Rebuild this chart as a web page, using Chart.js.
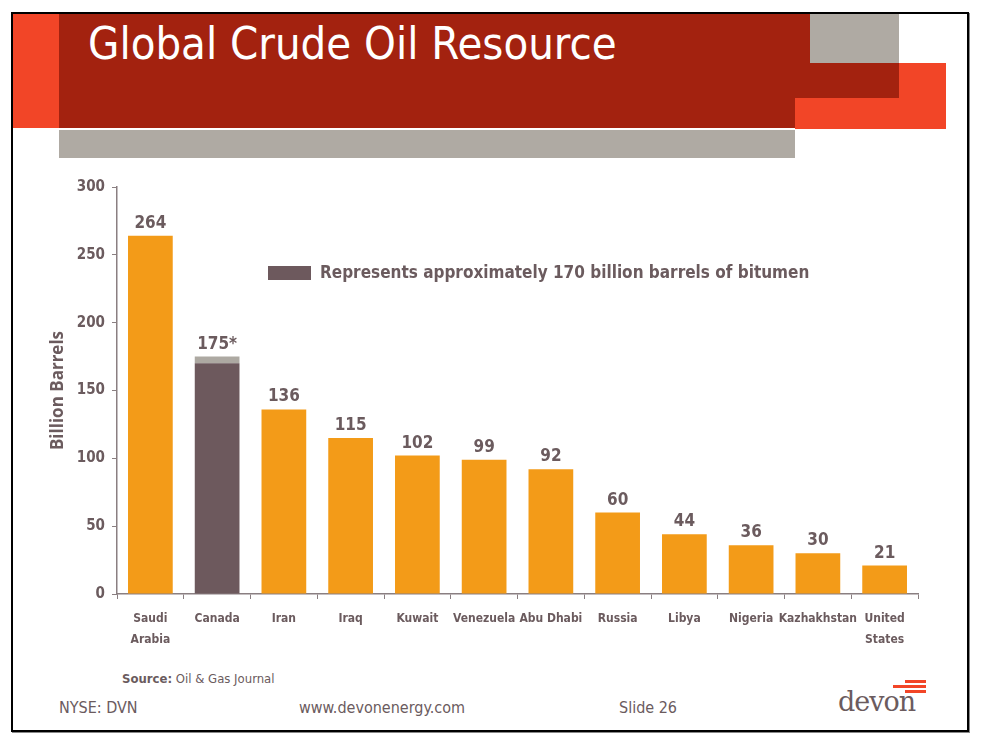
<!DOCTYPE html>
<html>
<head>
<meta charset="utf-8">
<script src="https://cdn.jsdelivr.net/npm/chart.js@4/dist/chart.umd.min.js"></script>
<style>
  body { margin: 0; background: #fff; width: 986px; height: 748px; position: relative; overflow: hidden; font-family: "DejaVu Sans Condensed", "DejaVu Sans", sans-serif; color: #6b5b5e; }
  .abs { position: absolute; }
  #slide { left: 11px; top: 12px; width: 954px; height: 716px; border: 2px solid #000; box-shadow: 1px 1px 0 #888; }
  .red { background: #a3220f; }
  .orange { background: #f24527; }
  .grey { background: #afaaa3; }
  #title { left: 88px; top: 17px; font-size: 45px; color: #fff; white-space: nowrap; }
  .foot { font-size: 16px; top: 698px; white-space: nowrap; }
  #source { left: 122px; top: 671px; font-size: 13px; white-space: nowrap; }
  #logo { left: 838px; top: 686px; font-family: "DejaVu Serif", serif; font-size: 27px; color: #6b5b5e; letter-spacing: -1px; }
  #chartBox { left: 40px; top: 170px; width: 890px; height: 490px; }
</style>
</head>
<body>
<div id="slide" class="abs"></div>
<div class="abs orange" style="left:13px;top:14px;width:46px;height:114px"></div>
<div class="abs red" style="left:59px;top:14px;width:840px;height:84px"></div>
<div class="abs red" style="left:59px;top:98px;width:736px;height:30px"></div>
<div class="abs grey" style="left:810px;top:14px;width:89px;height:49px"></div>
<div class="abs orange" style="left:899px;top:63px;width:47px;height:66px"></div>
<div class="abs orange" style="left:795px;top:98px;width:151px;height:31px"></div>
<div class="abs grey" style="left:59px;top:130px;width:736px;height:28px"></div>
<div id="title" class="abs">Global Crude Oil Resource</div>

<div id="chartBox" class="abs"><canvas id="barChart"></canvas></div>

<div id="source" class="abs"><b>Source:</b> Oil &amp; Gas Journal</div>
<div class="abs foot" style="left:59px">NYSE: DVN</div>
<div class="abs foot" style="left:299px">www.devonenergy.com</div>
<div class="abs foot" style="left:619px">Slide 26</div>
<div class="abs orange" style="left:905px;top:680px;width:21px;height:3px"></div>
<div class="abs orange" style="left:893px;top:685px;width:33px;height:3px"></div>
<div class="abs orange" style="left:905px;top:690px;width:21px;height:3px"></div>
<div id="logo" class="abs">devon</div>

<script>
const countries = [["Saudi", "Arabia"], "Canada", "Iran", "Iraq", "Kuwait", "Venezuela", "Abu Dhabi", "Russia", "Libya", "Nigeria", "Kazhakhstan", ["United", "States"]];
const conventional = [264, null, 136, 115, 102, 99, 92, 60, 44, 36, 30, 21];
const bitumen = [null, 170, null, null, null, null, null, null, null, null, null, null];
const canadaOther = [null, 5, null, null, null, null, null, null, null, null, null, null];
const labelNotes = ["", "*", "", "", "", "", "", "", "", "", "", ""];
const yTicks = [0, 50, 100, 150, 200, 250, 300];
const legendText = "Represents approximately 170 billion barrels of bitumen";

const textColor = "#6b5b5e";
const axisColor = "#8a7f81";
const fontFamily = '"DejaVu Sans Condensed", "DejaVu Sans", sans-serif';

// value labels on top of each stack + the bitumen key inside the plot
const barLabels = {
    id: "barLabels",
    afterDatasetsDraw(chart) {
        const { ctx, scales: { x, y }, chartArea } = chart;
        ctx.save();
        ctx.fillStyle = textColor;
        ctx.font = "bold 17px " + fontFamily;
        ctx.textAlign = "center";
        ctx.textBaseline = "alphabetic";
        countries.forEach((c, i) => {
            const total = chart.data.datasets.reduce((s, d) => s + (d.data[i] || 0), 0);
            ctx.fillText(total + labelNotes[i], x.getPixelForValue(i), y.getPixelForValue(total) - 8);
        });

        const lx = chartArea.left + 151;
        const ly = chartArea.top + 79;
        ctx.fillStyle = chart.data.datasets[1].backgroundColor;
        ctx.fillRect(lx, ly, 43, 14);
        ctx.fillStyle = textColor;
        ctx.textAlign = "left";
        ctx.textBaseline = "middle";
        ctx.fillText(legendText, lx + 52, ly + 8);
        ctx.restore();
    },
};

const ctx = document.getElementById("barChart");

const data = {
    labels: countries,
    datasets: [
        { label: "Conventional", data: conventional, backgroundColor: "#f39b18" },
        { label: "Bitumen", data: bitumen, backgroundColor: "#6d595d" },
        { label: "Other", data: canadaOther, backgroundColor: "#ada9a2" },
    ],
};

const config = {
    type: "bar",
    data: data,
    options: {
        responsive: true,
        maintainAspectRatio: false,
        animation: false,
        barPercentage: 0.67,
        categoryPercentage: 1,
        layout: { padding: { top: 17, right: 12, left: 0, bottom: 0 } },
        plugins: { legend: { display: false }, tooltip: { enabled: false } },
        scales: {
            x: {
                stacked: true,
                afterFit: (s) => { s.height = 66; },
                border: { color: axisColor, width: 1.5 },
                grid: { drawOnChartArea: false, tickLength: 5, tickColor: axisColor, offset: true },
                ticks: {
                    color: textColor,
                    font: { family: fontFamily, size: 12, weight: "bold", lineHeight: 1.75 },
                    maxRotation: 0, autoSkip: false, padding: 9,
                },
            },
            y: {
                stacked: true,
                min: 0, max: 300,
                afterFit: (s) => { s.width = 77; },
                afterBuildTicks: (s) => { s.ticks = yTicks.map((v) => ({ value: v })); },
                border: { color: axisColor, width: 1.5 },
                grid: { drawOnChartArea: false, tickLength: 5, tickColor: axisColor },
                ticks: { color: textColor, font: { family: fontFamily, size: 15, weight: "bold" }, padding: 7 },
                title: {
                    display: true,
                    text: "Billion Barrels",
                    color: textColor,
                    font: { family: '"Open Sans", sans-serif', size: 17, weight: "bold" },
                    padding: { top: 8, bottom: 0 },
                },
            },
        },
    },
    plugins: [barLabels],
};

const barChart = new Chart(ctx, config);
</script>
</body>
</html>
